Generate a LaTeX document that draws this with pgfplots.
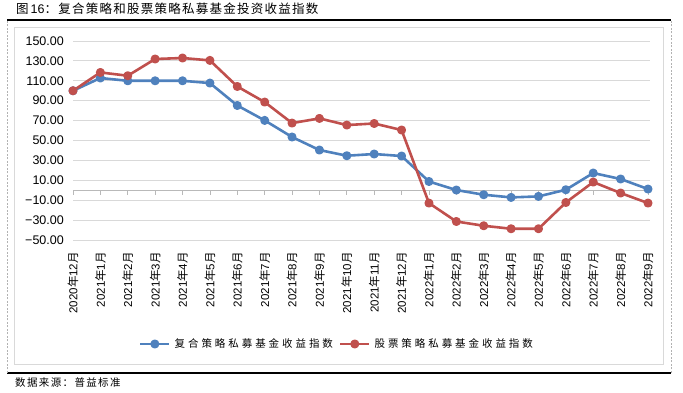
\documentclass[border=0pt]{standalone}
\usepackage{fontspec}
\setmainfont{Liberation Sans}
\newfontfamily\cjkT[LetterSpace=10]{Noto Sans CJK SC}
\newfontfamily\cjkL[LetterSpace=28]{Noto Sans CJK SC}
\newfontfamily\cjkS[LetterSpace=13]{Noto Sans CJK SC}
\newfontfamily\cjkX{Noto Sans CJK SC}
\usepackage{pgfplots}
\pgfplotsset{compat=1.18}
\definecolor{cblue}{HTML}{4F81BD}
\definecolor{cred}{HTML}{C0504D}
\definecolor{gridc}{HTML}{D9D9D9}
\newcommand\ym[2]{#1{\cjkX 年}#2{\cjkX 月}}
\begin{document}
\begin{tikzpicture}
\useasboundingbox (0pt,0pt) rectangle (683pt,393pt);
\draw[black, line width=1.5pt] (7pt,373pt) -- (671pt,373pt);
\draw[black, line width=1.5pt] (7pt,20pt) -- (671pt,20pt);
\draw[gray!60, line width=0.5pt, dash pattern=on 2pt off 1.5pt] (7pt,20pt) -- (7pt,372pt) (671pt,20pt) -- (671pt,372pt);
\draw[gridc, line width=1pt] (14pt,28pt) rectangle (663pt,365pt);
\node[anchor=west, inner sep=0pt, font=\fontsize{12.5}{14}\selectfont] at (16pt,384pt) {{\cjkT 图}\hspace{2pt}16{\cjkT ：复合策略和股票策略私募基金投资收益指数}};
\node[anchor=west, inner sep=0pt, font=\fontsize{10.5}{12}\selectfont] at (15pt,10pt) {\cjkS 数据来源：普益标准};
\begin{axis}[
  at={(73pt,153pt)}, anchor=south west,
  scale only axis, width=577pt, height=199pt,
  xmin=0, xmax=21.073, ymin=-50, ymax=150,
  axis line style={draw=none},
  major tick length=0pt,
  ytick={-50,-30,-10,10,30,50,70,90,110,130,150},
  yticklabels={−50.00,−30.00,−10.00,10.00,30.00,50.00,70.00,90.00,110.00,130.00,150.00},
  ymajorgrids, grid style={gridc, line width=0.9pt},
  xtick={0,...,21},
  xticklabels={\ym{2020}{12},\ym{2021}{1},\ym{2021}{2},\ym{2021}{3},\ym{2021}{4},\ym{2021}{5},\ym{2021}{6},\ym{2021}{7},\ym{2021}{8},\ym{2021}{9},\ym{2021}{10},\ym{2021}{11},\ym{2021}{12},\ym{2022}{1},\ym{2022}{2},\ym{2022}{3},\ym{2022}{4},\ym{2022}{5},\ym{2022}{6},\ym{2022}{7},\ym{2022}{8},\ym{2022}{9}},
  xticklabel style={rotate=90, anchor=east, inner sep=0pt, font=\fontsize{11.5}{13}\selectfont},
  xticklabel shift=12pt,
  yticklabel style={anchor=east, inner sep=0pt, font=\fontsize{12.5}{14}\selectfont},
  yticklabel shift=9pt,
  clip=false,
  legend style={at={(0.4575,-0.5226)}, anchor=center, draw=none, fill=none,
    legend columns=2, font=\fontsize{10.5}{12}\selectfont,
    /tikz/every even column/.append style={column sep=4pt},
    /tikz/every odd column/.append style={column sep=2pt}},
  legend image code/.code={\draw[mark repeat=2, mark phase=2, #1] plot coordinates {(0pt,0pt) (14.5pt,0pt) (29pt,0pt)};},
]
\draw[gray!55, line width=0.8pt] (axis cs:0,0) -- (axis cs:21.073,0);
\pgfplotsinvokeforeach{0,...,21}{\draw[gray!55, line width=0.8pt] (axis cs:#1,0) -- ++(0pt,-5pt);}
\addplot[cblue, line width=2.6pt, line join=round, mark=*, mark size=3.2pt, mark options={solid}] coordinates {
(0,100) (1,112.8) (2,110) (3,110) (4,110) (5,107.7) (6,85.2) (7,70.2) (8,53.5) (9,40.4) (10,34.7)
(11,36.4) (12,34.4) (13,8.8) (14,0.2) (15,-4.5) (16,-7.2) (17,-6.2) (18,0.5) (19,17.3) (20,11.3) (21,1.2)};
\addlegendentry{\cjkL 复合策略私募基金收益指数}
\addplot[cred, line width=2.6pt, line join=round, mark=*, mark size=3.2pt, mark options={solid}] coordinates {
(0,100) (1,118.4) (2,115.1) (3,131.9) (4,132.9) (5,130.5) (6,104.3) (7,88.6) (8,67.5) (9,72.2) (10,65.5)
(11,67.1) (12,60.5) (13,-12.9) (14,-31.4) (15,-35.7) (16,-38.7) (17,-38.7) (18,-12.3) (19,8.2) (20,-2.8) (21,-12.9)};
\addlegendentry{\cjkL 股票策略私募基金收益指数}
\end{axis}
\end{tikzpicture}
\end{document}
